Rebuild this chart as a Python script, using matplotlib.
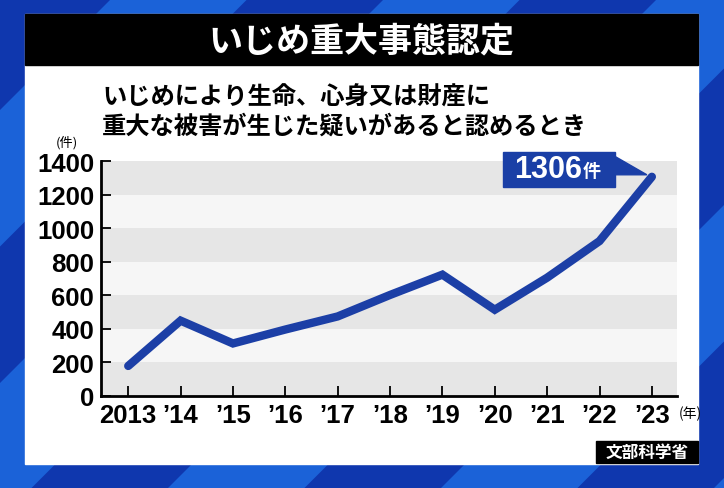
import matplotlib
matplotlib.use("Agg")
import matplotlib.pyplot as plt
from matplotlib.patches import Polygon, Rectangle
import matplotlib.transforms as mtransforms

plt.rcParams['font.family'] = ['Liberation Sans', 'Noto Sans CJK JP', 'DejaVu Sans']

# data
years = [2013, 2014, 2015, 2016, 2017, 2018, 2019, 2020, 2021, 2022, 2023]
cases = [179, 449, 313, 396, 474, 602, 723, 514, 705, 923, 1306]
year_labels = ['2013', '’14', '’15', '’16', '’17', '’18', '’19', '’20', '’21', '’22', '’23']
y_ticks = [0, 200, 400, 600, 800, 1000, 1200, 1400]

title = 'いじめ重大事態認定'
subtitle = 'いじめにより生命、心身又は財産に\n重大な被害が生じた疑いがあると認めるとき'
source = '文部科学省'

W, H = 724, 489
fig = plt.figure(figsize=(W / 100, H / 100), dpi=100)

# background in pixel coordinates
bg = fig.add_axes([0, 0, 1, 1])
bg.set_xlim(0, W)
bg.set_ylim(H, 0)
bg.axis('off')
bg.add_patch(Rectangle((0, 0), W, H, color='#1b62d8'))
dark = '#0f37ae'
for k in range(-2, 10):
    x0 = 111 + 273 * k - 136.5
    x1 = 111 + 273 * k
    bg.add_patch(Polygon([(x0, 0), (x1, 0), (x1 - H, H), (x0 - H, H)],
                         closed=True, color=dark, lw=0))

# white panel and title bar
bg.add_patch(Rectangle((25, 15), 673, 450, color='white'))
bg.add_patch(Rectangle((25, 15), 673, 51, color='black'))
bg.text(361, 41, title, color='white', fontsize=24.5, fontweight='bold',
        family='Noto Sans CJK JP', ha='center', va='center')
bg.text(102, 112, subtitle, color='black', fontsize=17.5, fontweight='bold',
        family='Noto Sans CJK JP', ha='left', va='center', linespacing=1.25)
bg.add_patch(Rectangle((596, 442), 102, 22, color='black'))
bg.text(647, 452.5, source, color='white', fontsize=12, fontweight='bold',
        family='Noto Sans CJK JP', ha='center', va='center')
bg.text(67, 143, '(件)', color='black', fontsize=9.5, family='Noto Sans CJK JP',
        ha='center', va='center')

# chart axes
ax = fig.add_axes([101 / W, 1 - 397 / H, (677 - 101) / W, (397 - 162) / H])
ax.set_xlim(years[0] - 0.52, years[-1] + 0.48)
ax.set_ylim(y_ticks[0], y_ticks[-1])
for i in range(len(y_ticks) - 1):
    ax.axhspan(y_ticks[i], y_ticks[i + 1],
               color='#e6e6e6' if i % 2 == 0 else '#f6f6f6', lw=0, zorder=0)

ax.plot(years, cases, color='#1c3fa6', lw=6, solid_capstyle='round',
        solid_joinstyle='miter', zorder=3)

ax.set_xticks(years)
ax.set_xticklabels(year_labels)
ax.set_yticks(y_ticks)
ax.tick_params(direction='in', length=7, width=1.3, labelsize=18.5, pad=5)
for lab in ax.get_xticklabels() + ax.get_yticklabels():
    lab.set_fontweight('bold')
for s in ['top', 'right']:
    ax.spines[s].set_visible(False)
for s in ['left', 'bottom']:
    ax.spines[s].set_linewidth(2)

ax.text(1.003, -0.07, '(年)', transform=ax.transAxes, fontsize=10,
        family='Noto Sans CJK JP', ha='left', va='center')

# callout for last value, offsets in pixels from the last point
pt = mtransforms.Affine2D() + mtransforms.ScaledTranslation(years[-1], cases[-1], ax.transData)
ax.add_patch(Rectangle((-149, -10), 112, 35, transform=pt, color='#1a3fa6',
                       clip_on=False, zorder=4))
ax.add_patch(Polygon([(-38, 21), (-5, 2), (-38, 2)], closed=True, transform=pt,
                     color='#1a3fa6', clip_on=False, zorder=4))
ax.text(-70, 8, f'{cases[-1]}', transform=pt, color='white', fontsize=22,
        fontweight='bold', ha='right', va='center', zorder=5)
ax.text(-69, 6, '件', transform=pt, color='white', fontsize=13,
        fontweight='bold', family='Noto Sans CJK JP', ha='left', va='center', zorder=5)

fig.savefig('out.png', dpi=100)
